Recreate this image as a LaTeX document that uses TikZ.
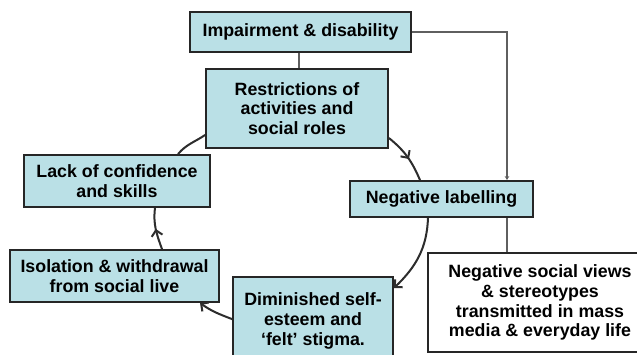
\documentclass[tikz,border=0pt]{standalone}
\usepackage{fontspec}
\setmainfont{Liberation Sans}
\usetikzlibrary{arrows.meta,decorations.markings,calc}
\definecolor{boxblue}{RGB}{186,224,230}
\definecolor{edgegray}{RGB}{95,95,95}
\definecolor{cyclegray}{RGB}{45,45,45}
\tikzset{barb/.tip={Straight Barb[length=5.5pt,width=11pt]}}
\begin{document}
\begin{tikzpicture}[x=1pt,y=1pt,
  stage/.style={draw=black!85, line width=1.8pt, fill=boxblue, align=center,
    inner sep=0pt, font=\fontsize{17.8}{19.8}\selectfont\bfseries},
  plainbox/.style={stage, fill=white},
  link/.style={draw=edgegray, line width=2.2pt},
  loopedge/.style={draw=cyclegray, line width=2pt},
  midbarb/.style={postaction={decorate},
    decoration={markings, mark=at position #1 with {\arrow{barb}}}}
]
\clip (0,0) rectangle (637,354);
\fill[white] (0,0) rectangle (637,354);

% boxes
\node[stage, minimum width=221pt, minimum height=40pt] (imp) at (300.5,322)
  {Impairment \& disability};
\node[stage, minimum width=182pt, minimum height=79pt] (restr) at (297,245.5)
  {Restrictions of\\activities and\\social roles};
\node[stage, minimum width=186pt, minimum height=52pt] (lack) at (117,173)
  {Lack of confidence\\and skills};
\node[stage, minimum width=183pt, minimum height=36pt] (neg) at (441.5,155)
  {Negative labelling};
\node[stage, minimum width=209pt, minimum height=52pt] (iso) at (114.5,78)
  {Isolation \& withdrawal\\from social live};
\node[stage, minimum width=160pt, minimum height=88pt] (dim) at (313,33)
  {Diminished self-\\esteem and\\`felt' stigma.};
\node[plainbox, minimum width=224pt, minimum height=99pt] (views) at (540,51.5)
  {Negative social views\\\& stereotypes\\transmitted in mass\\media \& everyday life};

% straight links
\draw[link] ([xshift=-1.5pt]imp.south) -- ([xshift=-1.5pt]imp.south |- restr.north);
\draw[link, -{Stealth[length=4pt,width=4.5pt]}] (imp.east) -| ([xshift=65.5pt]neg.north);
\draw[link] ([xshift=65.5pt]neg.south) -- ([xshift=65.5pt]neg.south |- views.north);

% the vicious cycle
\draw[loopedge, midbarb=0.55] ([yshift=-29.5pt]restr.east)
  to[out=-39,in=113] ([xshift=-21.5pt]neg.north);
\draw[loopedge, -{barb}] ([xshift=-13.5pt]neg.south)
  to[out=-92,in=44] ([yshift=-12pt]dim.north east);
\draw[loopedge, -{barb}] ([yshift=-43pt]dim.north west)
  to[out=159,in=-36] ([xshift=85.5pt]iso.south);
\draw[loopedge, midbarb=0.5] ([xshift=47.5pt]iso.north)
  to[out=110,in=-97] ([xshift=38pt]lack.south);
\draw[loopedge] ([xshift=61pt]lack.north)
  to[out=50,in=214] ([yshift=-26.5pt]restr.west);
\end{tikzpicture}
\end{document}
